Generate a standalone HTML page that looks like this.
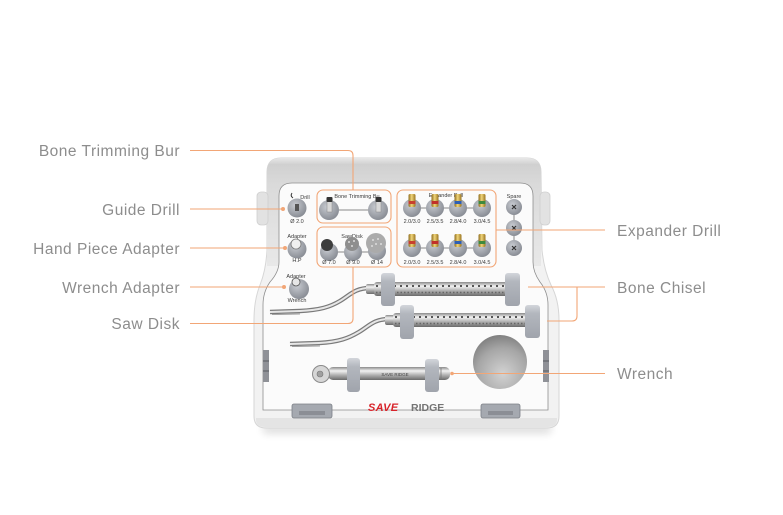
<!DOCTYPE html>
<html><head><meta charset="utf-8"><style>
html,body{margin:0;padding:0;background:#fff;}
svg{display:block}
.lbl{font-family:"Liberation Sans",sans-serif;font-size:15.5px;fill:#8d8d8d;letter-spacing:0.5px}
.t{font-family:"Liberation Sans",sans-serif;font-size:5.5px;fill:#3a3a3a;text-anchor:middle}
.c{stroke:#f2a676;stroke-width:1.1;fill:none}
</style></head><body>
<svg width="783" height="515" viewBox="0 0 783 515" xmlns="http://www.w3.org/2000/svg">
<defs>
<linearGradient id="lid" x1="0" y1="0" x2="0" y2="1">
 <stop offset="0" stop-color="#e8e8e8"/><stop offset="0.06" stop-color="#d0d0d0"/><stop offset="0.25" stop-color="#dadada"/><stop offset="1" stop-color="#e8e8e8"/>
</linearGradient>
<radialGradient id="sock" cx="0.4" cy="0.35" r="0.75">
 <stop offset="0" stop-color="#c8cbd1"/><stop offset="1" stop-color="#80848c"/>
</radialGradient>
<linearGradient id="metal" x1="0" y1="0" x2="0" y2="1">
 <stop offset="0" stop-color="#8a8a8a"/><stop offset="0.3" stop-color="#f2f2f2"/><stop offset="0.6" stop-color="#b4b4b4"/><stop offset="1" stop-color="#6a6a6a"/>
</linearGradient>
<linearGradient id="gold" x1="0" y1="0" x2="1" y2="0">
 <stop offset="0" stop-color="#8c6a1c"/><stop offset="0.45" stop-color="#f0d57a"/><stop offset="1" stop-color="#9a7420"/>
</linearGradient>
<radialGradient id="hole" cx="0.55" cy="0.72" r="0.8">
 <stop offset="0" stop-color="#d2d2d2"/><stop offset="0.6" stop-color="#a6a6a6"/><stop offset="1" stop-color="#747474"/>
</radialGradient>
<linearGradient id="hold" x1="0" y1="0" x2="0" y2="1">
 <stop offset="0" stop-color="#d3d6db"/><stop offset="0.25" stop-color="#b3b7be"/><stop offset="1" stop-color="#a0a4ac"/>
</linearGradient>
<filter id="blur" x="-20%" y="-100%" width="140%" height="300%"><feGaussianBlur stdDeviation="4"/></filter>
</defs>

<!-- shadow -->
<rect x="262" y="424" width="290" height="10" rx="5" fill="#000" opacity="0.12" filter="url(#blur)"/>

<!-- outer body -->
<path d="M267,172 Q267,158 281,158 L527,158 Q541,158 541,172 L542,250 Q544,270 551,285 Q559,300 559,320 L559,416 Q559,428 547,428 L266,428 Q254,428 254,416 L254,320 Q254,300 260,285 Q266,270 267,250 Z" fill="#f2f2f2" stroke="#d6d6d6" stroke-width="1"/>
<!-- lid -->
<path d="M267,266 L267,172 Q267,158 281,158 L527,158 Q541,158 541,172 L541,266 Z" fill="url(#lid)"/>
<!-- hinges -->
<rect x="257" y="192" width="11" height="33" rx="4" fill="#e2e2e2" stroke="#cfcfcf" stroke-width="0.8"/>
<rect x="540" y="192" width="10" height="33" rx="4" fill="#e2e2e2" stroke="#cfcfcf" stroke-width="0.8"/>
<!-- inner panel -->
<path d="M279,196 Q279,183 292,183 L520,183 Q533,183 533,196 L533,262 Q533,272 540,282 Q548,292 548,305 L548,410 L263,410 L263,305 Q263,292 270,282 Q279,272 279,262 Z" fill="#fbfbfb" stroke="#8e8e8e" stroke-width="0.8"/>
<!-- bottom rim shading -->
<path d="M256,418 L557,418 L557,420 Q557,427 547,427 L266,427 Q256,427 256,420 Z" fill="#e4e4e4"/>
<!-- side clips -->
<rect x="263" y="350" width="6" height="32" fill="#8f9197"/>
<line x1="263" y1="361" x2="269" y2="361" stroke="#5a5c60" stroke-width="1"/>
<line x1="263" y1="371" x2="269" y2="371" stroke="#5a5c60" stroke-width="1"/>
<rect x="543" y="350" width="6" height="32" fill="#8f9197"/>
<line x1="543" y1="361" x2="549" y2="361" stroke="#5a5c60" stroke-width="1"/>
<line x1="543" y1="371" x2="549" y2="371" stroke="#5a5c60" stroke-width="1"/>
<!-- bottom clips -->
<rect x="292" y="404" width="40" height="14" rx="2" fill="#a5a9b0" stroke="#7c8087" stroke-width="0.8"/>
<rect x="299" y="411" width="26" height="4" fill="#8b8e95"/>
<rect x="481" y="404" width="39" height="14" rx="2" fill="#a5a9b0" stroke="#7c8087" stroke-width="0.8"/>
<rect x="488" y="411" width="25" height="4" fill="#8b8e95"/>

<!-- left small sockets -->
<text class="t" x="305" y="199">Drill</text>
<path d="M292,193 q-2,3 1,5" stroke="#333" stroke-width="1" fill="none"/>
<circle cx="297" cy="208" r="9.5" fill="url(#sock)"/>
<rect x="295" y="204" width="4" height="7" fill="#555"/>
<text class="t" x="297" y="223">Ø 2.0</text>

<text class="t" x="297" y="238">Adapter</text>
<circle cx="297" cy="249" r="9.5" fill="url(#sock)"/>
<circle cx="296" cy="244" r="5" fill="#f0f0f0" stroke="#7a7a7a" stroke-width="0.8"/>
<text class="t" x="297" y="262">H.P</text>

<text class="t" x="296" y="278">Adapter</text>
<circle cx="299" cy="289" r="10" fill="url(#sock)"/>
<circle cx="296" cy="282" r="4" fill="#e6e6e6" stroke="#555" stroke-width="0.8"/>
<text class="t" x="297" y="302">Wrench</text>

<!-- bone trimming bur -->
<text class="t" x="357" y="198">Bone Trimming Bu</text>
<line x1="339" y1="210" x2="368" y2="210" stroke="#888" stroke-width="1"/>
<circle cx="329" cy="210" r="10" fill="url(#sock)"/>
<circle cx="378" cy="210" r="10" fill="url(#sock)"/>
<rect x="327" y="201" width="5" height="11" fill="#d8d8d8" stroke="#888" stroke-width="0.5"/>
<rect x="326.5" y="197" width="6" height="5" rx="1" fill="#333"/>
<rect x="376" y="201" width="5" height="11" fill="#d8d8d8" stroke="#888" stroke-width="0.5"/>
<rect x="375.5" y="197" width="6" height="5" rx="1" fill="#333"/>

<!-- saw disk -->
<text class="t" x="352" y="238">SawDisk</text>
<line x1="329" y1="252" x2="377" y2="252" stroke="#888" stroke-width="1"/>
<circle cx="329" cy="252" r="9" fill="url(#sock)"/>
<circle cx="353" cy="252" r="9" fill="url(#sock)"/>
<circle cx="377" cy="251" r="9" fill="url(#sock)"/>
<circle cx="327" cy="245" r="6" fill="#3d3d3d"/>
<circle cx="352" cy="244" r="7" fill="#8e8e8e"/>
<circle cx="376" cy="243" r="10" fill="#ababab"/>
<g fill="#dcdcdc"><circle cx="349" cy="242" r="1"/><circle cx="354" cy="241" r="1"/><circle cx="352" cy="246" r="1"/><circle cx="373" cy="240" r="1"/><circle cx="378" cy="239" r="1"/><circle cx="376" cy="244" r="1"/><circle cx="381" cy="244" r="1"/><circle cx="372" cy="246" r="1"/></g>
<text class="t" x="329" y="264">Ø 7.0</text>
<text class="t" x="353" y="264">Ø 9.0</text>
<text class="t" x="377" y="264">Ø 14</text>

<!-- expander drills -->
<text class="t" x="446" y="197">Expander Drill</text>
<line x1="412" y1="208" x2="482" y2="208" stroke="#888" stroke-width="1"/>
<line x1="412" y1="248" x2="482" y2="248" stroke="#888" stroke-width="1"/>
<g>
<circle cx="412" cy="208" r="9" fill="url(#sock)"/><circle cx="435" cy="208" r="9" fill="url(#sock)"/><circle cx="458" cy="208" r="9" fill="url(#sock)"/><circle cx="482" cy="208" r="9" fill="url(#sock)"/>
<circle cx="412" cy="248" r="9" fill="url(#sock)"/><circle cx="435" cy="248" r="9" fill="url(#sock)"/><circle cx="458" cy="248" r="9" fill="url(#sock)"/><circle cx="482" cy="248" r="9" fill="url(#sock)"/>
</g>
<g>
<rect x="408.5" y="194" width="7" height="13" rx="1.5" fill="url(#gold)"/><rect x="408.5" y="201" width="7" height="3" fill="#c8402e"/>
<rect x="431.5" y="194" width="7" height="13" rx="1.5" fill="url(#gold)"/><rect x="431.5" y="201" width="7" height="3" fill="#c0302a"/>
<rect x="454.5" y="194" width="7" height="13" rx="1.5" fill="url(#gold)"/><rect x="454.5" y="201" width="7" height="3" fill="#2e5fb4"/>
<rect x="478.5" y="194" width="7" height="13" rx="1.5" fill="url(#gold)"/><rect x="478.5" y="201" width="7" height="3" fill="#3f8a3c"/>
<rect x="408.5" y="234" width="7" height="13" rx="1.5" fill="url(#gold)"/><rect x="408.5" y="241" width="7" height="3" fill="#c8402e"/>
<rect x="431.5" y="234" width="7" height="13" rx="1.5" fill="url(#gold)"/><rect x="431.5" y="241" width="7" height="3" fill="#c0302a"/>
<rect x="454.5" y="234" width="7" height="13" rx="1.5" fill="url(#gold)"/><rect x="454.5" y="241" width="7" height="3" fill="#2e5fb4"/>
<rect x="478.5" y="234" width="7" height="13" rx="1.5" fill="url(#gold)"/><rect x="478.5" y="241" width="7" height="3" fill="#3f8a3c"/>
</g>
<text class="t" x="412" y="223">2.0/3.0</text><text class="t" x="435" y="223">2.5/3.5</text><text class="t" x="458" y="223">2.8/4.0</text><text class="t" x="482" y="223">3.0/4.5</text>
<text class="t" x="412" y="264">2.0/3.0</text><text class="t" x="435" y="264">2.5/3.5</text><text class="t" x="458" y="264">2.8/4.0</text><text class="t" x="482" y="264">3.0/4.5</text>

<!-- spare -->
<text class="t" x="514" y="198">Spare</text>
<line x1="514" y1="207" x2="514" y2="248" stroke="#888" stroke-width="1"/>
<circle cx="514" cy="207" r="8" fill="url(#sock)"/>
<circle cx="514" cy="228" r="8" fill="url(#sock)"/>
<circle cx="514" cy="248" r="8" fill="url(#sock)"/>
<g stroke="#333" stroke-width="1.2"><path d="M512,205 l4,4 M516,205 l-4,4"/><path d="M512,226 l4,4 M516,226 l-4,4"/><path d="M512,246 l4,4 M516,246 l-4,4"/></g>

<!-- chisel 1 -->
<path d="M370,288 C355,288 350,295 340,301 C330,307 320,310 300,311 L270,312" stroke="#7a7a7a" stroke-width="4.5" fill="none"/>
<path d="M370,288 C355,288 350,295 340,301 C330,307 320,310 300,311 L270,312" stroke="#e6e6e6" stroke-width="2" fill="none"/>
<line x1="272" y1="314.5" x2="300" y2="314" stroke="#888" stroke-width="0.8"/>
<rect x="366" y="284" width="10" height="10" rx="2" fill="url(#metal)"/>
<rect x="374" y="282" width="146" height="14" rx="3" fill="url(#metal)"/>
<line x1="376" y1="286" x2="518" y2="286" stroke="#555" stroke-width="2" stroke-dasharray="2,4"/>
<line x1="376" y1="292.5" x2="518" y2="292.5" stroke="#666" stroke-width="1.5" stroke-dasharray="1.5,2"/>
<rect x="381" y="273" width="14" height="33" rx="3" fill="url(#hold)"/>
<rect x="505" y="273" width="15" height="33" rx="3" fill="url(#hold)"/>

<!-- chisel 2 -->
<path d="M389,319 C374,319 369,326 359,332 C349,338 339,342 319,343 L290,344" stroke="#7a7a7a" stroke-width="4.5" fill="none"/>
<path d="M389,319 C374,319 369,326 359,332 C349,338 339,342 319,343 L290,344" stroke="#e6e6e6" stroke-width="2" fill="none"/>
<line x1="292" y1="346.5" x2="320" y2="346" stroke="#888" stroke-width="0.8"/>
<rect x="385" y="315" width="10" height="10" rx="2" fill="url(#metal)"/>
<rect x="393" y="313" width="147" height="14" rx="3" fill="url(#metal)"/>
<line x1="395" y1="317" x2="538" y2="317" stroke="#555" stroke-width="2" stroke-dasharray="2,4"/>
<line x1="395" y1="323.5" x2="538" y2="323.5" stroke="#666" stroke-width="1.5" stroke-dasharray="1.5,2"/>
<rect x="400" y="305" width="14" height="34" rx="3" fill="url(#hold)"/>
<rect x="525" y="305" width="15" height="33" rx="3" fill="url(#hold)"/>

<!-- hole -->
<circle cx="500" cy="362" r="27" fill="url(#hole)"/>

<!-- wrench -->
<rect x="328" y="367" width="122" height="13" rx="5" fill="url(#metal)"/>
<circle cx="321" cy="374" r="8.5" fill="#d6d6d6" stroke="#8a8a8a" stroke-width="1"/>
<circle cx="320" cy="374" r="3" fill="#a0a0a0" stroke="#777" stroke-width="0.6"/>
<text x="395" y="376" font-family="Liberation Sans, sans-serif" font-size="4.5" fill="#444" text-anchor="middle">SAVE RIDGE</text>
<line x1="433" y1="368" x2="433" y2="379" stroke="#777" stroke-width="0.8"/>
<line x1="441" y1="368" x2="441" y2="379" stroke="#777" stroke-width="0.8"/>
<rect x="347" y="358" width="13" height="34" rx="3" fill="url(#hold)"/>
<rect x="425" y="359" width="14" height="33" rx="3" fill="url(#hold)"/>

<!-- logo -->
<text x="368" y="411" font-family="Liberation Sans, sans-serif" font-size="11" font-weight="bold" font-style="italic" fill="#d8232a" letter-spacing="0.3">SAVE</text>
<text x="411" y="411" font-family="Liberation Sans, sans-serif" font-size="10.5" font-weight="bold" fill="#747474">RIDGE</text>

<!-- orange boxes -->
<rect class="c" x="317" y="190" width="74" height="33" rx="6"/>
<rect class="c" x="317" y="227" width="74" height="40" rx="6"/>
<rect class="c" x="397" y="190" width="99" height="77" rx="6"/>

<!-- connectors -->
<path class="c" d="M190,150.5 H348 Q353,150.5 353,155.5 V190"/>
<path class="c" d="M190,209 H283"/><circle cx="283" cy="209" r="2" fill="#f2a676"/>
<path class="c" d="M190,248 H285"/><circle cx="285" cy="248" r="2" fill="#f2a676"/>
<path class="c" d="M190,287 H284"/><circle cx="284" cy="287" r="2" fill="#f2a676"/>
<path class="c" d="M190,323.5 H348 Q353,323.5 353,318.5 V267"/>
<path class="c" d="M496,230 H605"/>
<path class="c" d="M528,287 H605"/>
<path class="c" d="M577,287 V316 Q577,321 572,321 H547"/>
<path class="c" d="M452,373.5 H605"/><circle cx="452" cy="373.5" r="1.8" fill="#f2a676"/>

<!-- labels -->
<text class="lbl" x="180" y="156" text-anchor="end">Bone Trimming Bur</text>
<text class="lbl" x="180" y="215" text-anchor="end">Guide Drill</text>
<text class="lbl" x="180" y="254" text-anchor="end">Hand Piece Adapter</text>
<text class="lbl" x="180" y="293" text-anchor="end">Wrench Adapter</text>
<text class="lbl" x="180" y="329" text-anchor="end">Saw Disk</text>
<text class="lbl" x="617" y="236">Expander Drill</text>
<text class="lbl" x="617" y="293">Bone Chisel</text>
<text class="lbl" x="617" y="379">Wrench</text>
</svg>
</body></html>
